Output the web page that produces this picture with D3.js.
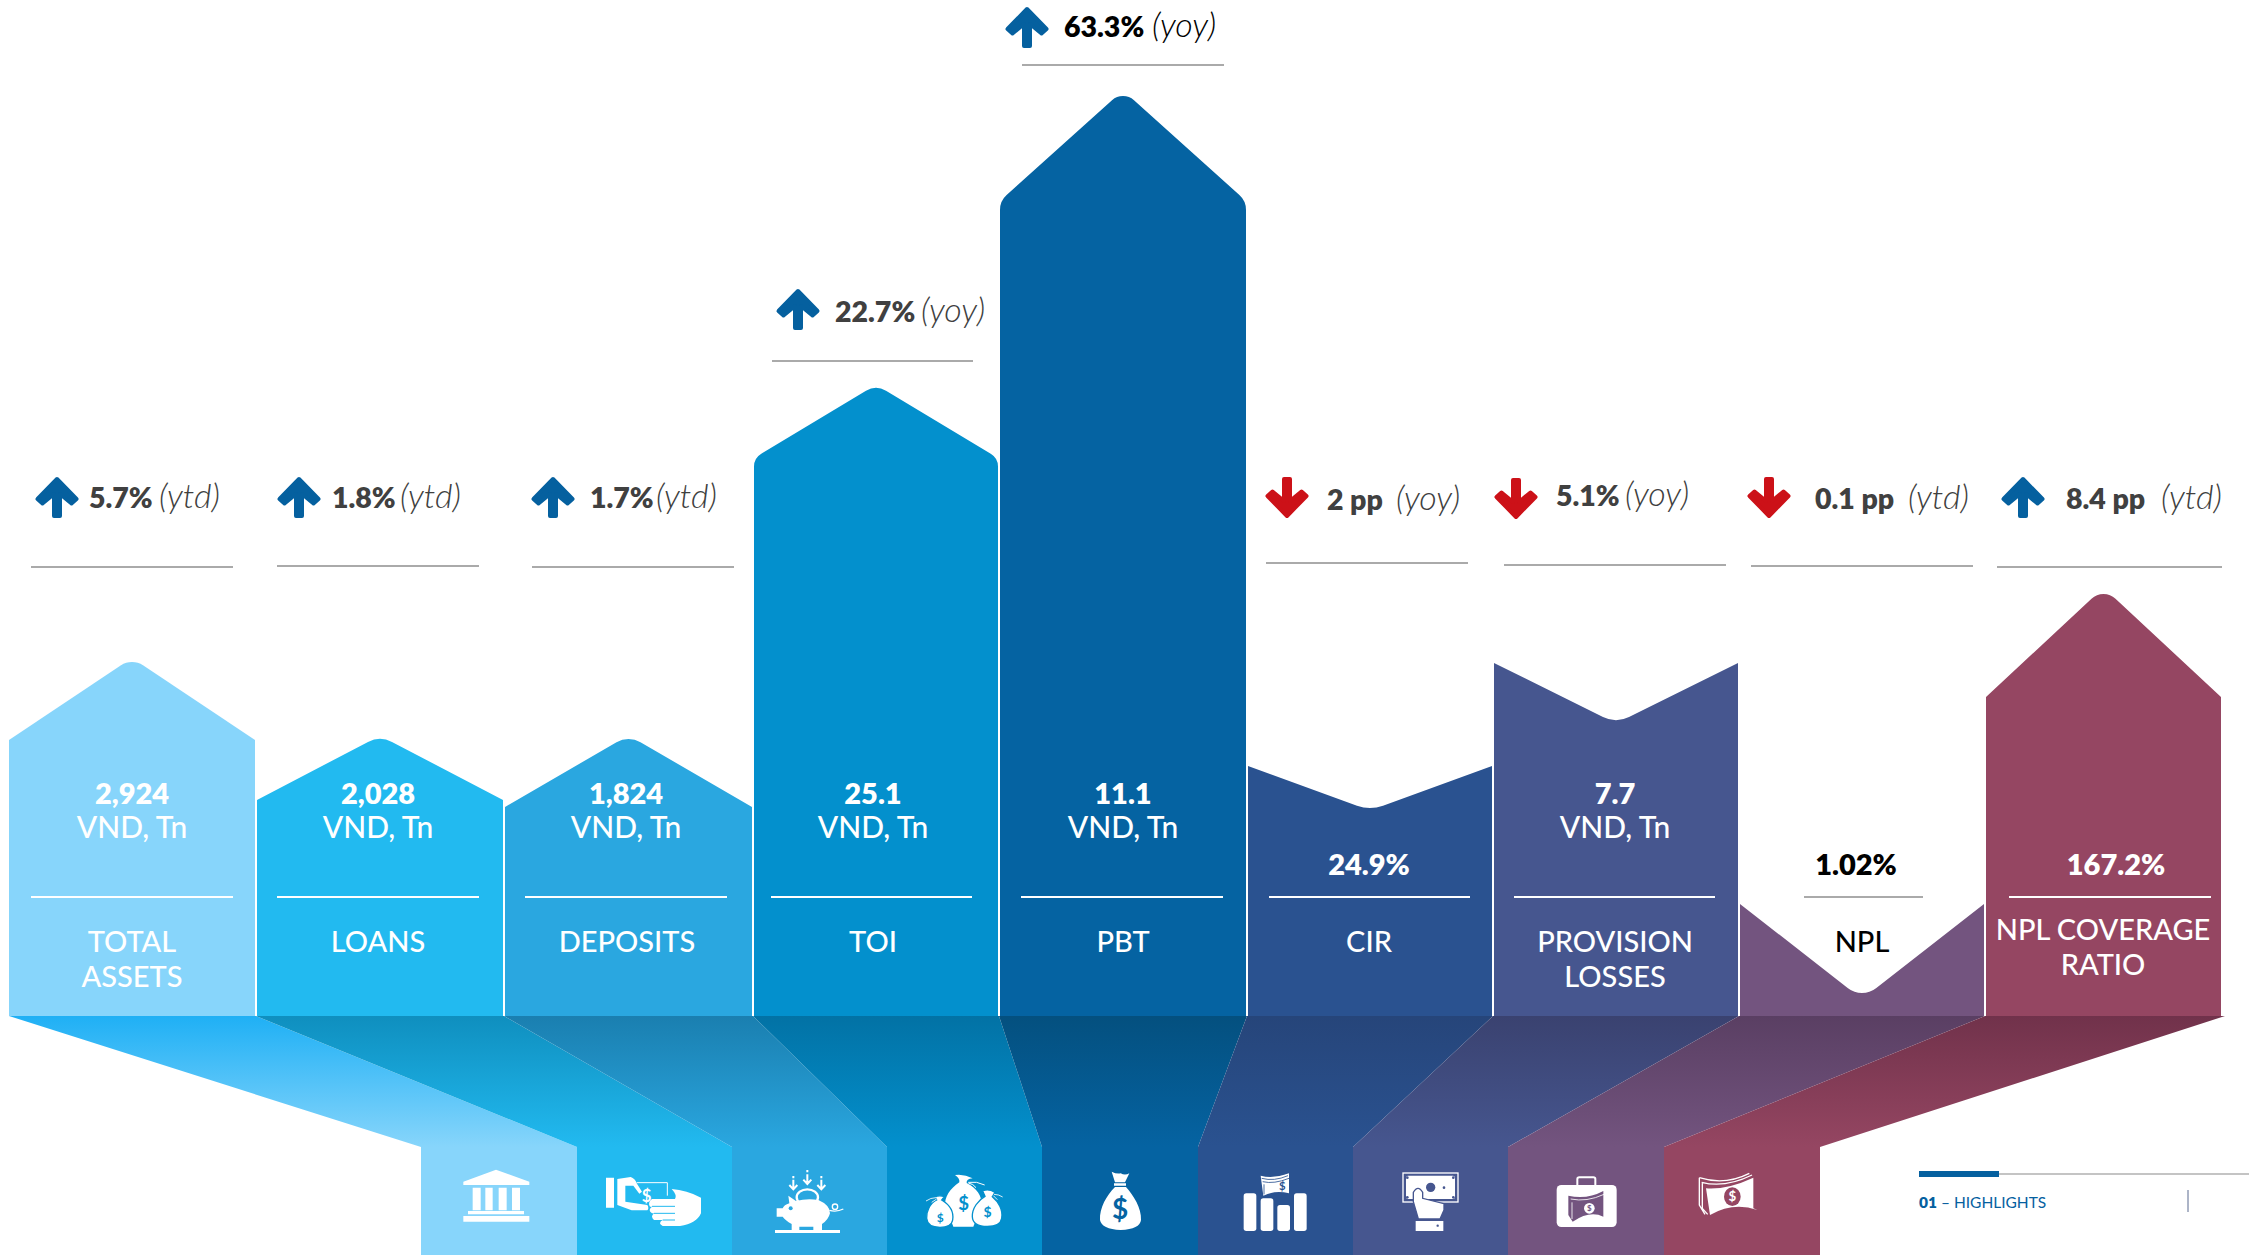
<!DOCTYPE html>
<html><head><meta charset="utf-8">
<style>html,body{margin:0;padding:0;background:#fff;overflow:hidden}svg{display:block}text{font-family:Lato,"Open Sans",sans-serif}</style>
<script src="https://cdn.jsdelivr.net/npm/d3@7/dist/d3.min.js"></script>
</head><body><svg id="c" width="2249" height="1255"></svg>
<script>
// ---- data ----
const categories = ["TOTAL ASSETS","LOANS","DEPOSITS","TOI","PBT","CIR","PROVISION LOSSES","NPL","NPL COVERAGE RATIO"];
const valueLabels = ["2,924","2,028","1,824","25.1","11.1","24.9%","7.7","1.02%","167.2%"];
const unitLabels = ["VND, Tn","VND, Tn","VND, Tn","VND, Tn","VND, Tn","","VND, Tn","",""];
const changeLabels = ["5.7%","1.8%","1.7%","22.7%","63.3%","2 pp","5.1%","0.1 pp","8.4 pp"];
const changeBasis = ["(ytd)","(ytd)","(ytd)","(yoy)","(yoy)","(yoy)","(yoy)","(ytd)","(ytd)"];
const changeDirection = [1,1,1,1,1,-1,-1,-1,1];
const edgeHeights = [276,216,209,558,815,250,353,112,319];
const apexHeights = [354,277,277,628,920,208,296,23,422];
const barColors = ["#87d5fb","#22baf0","#2aa7e0","#0390cd","#0563a2","#2a5290","#46568f","#73547f","#954662"];
const funnelTopColors = ["#1fb0f5","#0f8fbf","#1a7fb0","#0272a5","#04507f","#26457a","#3a4270","#5a3f63","#71324b"];

// ---- layout ----
const W=2249,H=1255,baseY=1016,neckY=1147;
const barLeft=[9,257,505,754,1000,1248,1494,1740,1986];
const barRight=[255,503,752,998,1246,1492,1738,1984,2221];
const funnelLeft=[9,256,504,753,999,1247,1493,1739,1985];
const funnelRight=[256,504,753,999,1247,1493,1739,1985,2225];
const colLeft=[421,577,732,887,1042,1198,1353,1508,1664];
const colRight=[577,732,887,1042,1198,1353,1508,1664,1820];
const ruleL=[31,277,525,771,1021,1269,1514,1804,2009],ruleR=[233,479,727,972,1223,1470,1715,1923,2211];
const topL=[31,277,532,772,1022,1266,1504,1751,1997],topR=[233,479,734,973,1224,1468,1726,1973,2222];
const topY=[567,566,567,361,65,563,565,566,567];
const arrowX=[57,299,553,798,1027,1287,1516,1769,2023];
const arrowTop=[477,477,477,289,7,477,478,477,477];
const chgX=[89,332,590,835,1064,1327,1556,1815,2066];
const chgY=[508,508,508,322,37,510,506,509,509];
const basisX=[159,400,656,921,1152,1396,1625,1908,2161];
const valX=[132,378,626,873,1123,1369,1615,1856,2116];
const catX=[132,378,627,873,1123,1369,1615,1862,2103];
const tipHalf=[11,12,12,10,11,13,13,14,12];
const shoulderR={3:15,4:20};

const svg=d3.select("#c");
const x=d3.scaleOrdinal(categories,barLeft);
const xEnd=d3.scaleOrdinal(categories,barRight);
const y=d3.scaleLinear().domain([0,1016]).range([baseY,0]);
const color=d3.scaleOrdinal(categories,barColors);

// gradients + funnels
const defs=svg.append("defs");
categories.forEach((c,i)=>{
  const g=defs.append("linearGradient").attr("id","f"+i).attr("gradientUnits","userSpaceOnUse")
   .attr("x1",0).attr("x2",0).attr("y1",baseY).attr("y2",neckY);
  g.append("stop").attr("offset",0).attr("stop-color",funnelTopColors[i]);
  g.append("stop").attr("offset",1).attr("stop-color",barColors[i]);
});
svg.append("g").selectAll("path").data(categories).join("path")
 .attr("fill",(d,i)=>`url(#f${i})`)
 .attr("d",(d,i)=>d3.line()([[funnelLeft[i],baseY],[funnelRight[i],baseY],[colRight[i],neckY],[colRight[i],H],[colLeft[i],H],[colLeft[i],neckY]])+"Z");

// bars: pointed (or notched) top with a rounded tip
function barPath(d,i){
  const l=x(d),r=xEnd(d),m=(l+r)/2,e=y(edgeHeights[i]),a=y(apexHeights[i]);
  const w=(r-l)/2,h=Math.abs(a-e),sgn=a<e?-1:1,tw=tipHalf[i];
  let dv=0,R=0;
  for(let k=0;k<6;k++){
    const th=Math.atan(w/(h+dv));
    R=tw/Math.cos(th);
    dv=R*(1/Math.sin(th)-1);
  }
  const vy=a+sgn*dv;
  const p=d3.path();
  p.moveTo(l,baseY);
  const rs=shoulderR[i];
  if(rs) p.arcTo(l,e,m,vy,rs); else p.lineTo(l,e);
  p.arcTo(m,vy,r,e,R);
  if(rs) p.arcTo(r,e,r,baseY,rs); else p.lineTo(r,e);
  p.lineTo(r,baseY); p.closePath();
  return p.toString();
}
svg.append("g").selectAll("path").data(categories).join("path")
 .attr("fill",d=>color(d)).attr("d",barPath);

// rules
const ink=i=>i===7?"#000":"#fff";
svg.append("g").selectAll("line").data(categories).join("line")
 .attr("x1",(d,i)=>ruleL[i]).attr("x2",(d,i)=>ruleR[i]).attr("y1",897).attr("y2",897)
 .attr("stroke",(d,i)=>i===7?"#aaaaaa":"#fff").attr("stroke-width",2);
svg.append("g").selectAll("line").data(categories).join("line")
 .attr("x1",(d,i)=>topL[i]).attr("x2",(d,i)=>topR[i]).attr("y1",(d,i)=>topY[i]).attr("y2",(d,i)=>topY[i])
 .attr("stroke","#aaaaaa").attr("stroke-width",2);

// value / unit / category text
const t=svg.append("g").attr("text-anchor","middle").attr("font-size",29);
categories.forEach((c,i)=>{
  const hasUnit=unitLabels[i]!=="";
  t.append("text").attr("x",valX[i]).attr("y",hasUnit?804:875).attr("font-weight",800)
    .attr("fill",ink(i)).text(valueLabels[i]);
  if(hasUnit) t.append("text").attr("x",valX[i]).attr("y",838).attr("font-size",30).attr("font-weight",500).attr("fill","#fff").text(unitLabels[i]);
  let lines=[c];
  if(c==="TOTAL ASSETS")lines=["TOTAL","ASSETS"];
  if(c==="PROVISION LOSSES")lines=["PROVISION","LOSSES"];
  if(c==="NPL COVERAGE RATIO")lines=["NPL COVERAGE","RATIO"];
  const y0=i===8?940:952,dy=35;
  lines.forEach((s,k)=>t.append("text").attr("x",catX[i]).attr("y",y0+k*dy).attr("font-weight",500).attr("fill",ink(i)).text(s));
});

// change labels
const c2=svg.append("g").attr("font-size",28.5);
categories.forEach((c,i)=>{
  const col=i===4?"#000":"#404040";
  c2.append("text").attr("x",chgX[i]).attr("y",chgY[i]).attr("font-weight",800).attr("fill",col).text(changeLabels[i]);
  c2.append("text").attr("x",basisX[i]).attr("y",chgY[i]).attr("font-size",34).attr("font-style","italic").attr("font-weight",300).attr("fill",col).text(changeBasis[i]);
  const up=changeDirection[i]>0,fc=up?"#05609f":"#cc1118";
  c2.append("path").attr("transform",up?`translate(${arrowX[i]},${arrowTop[i]})`:`translate(${arrowX[i]},${arrowTop[i]+41}) scale(1,-1)`)
    .attr("fill",fc).attr("stroke",fc).attr("stroke-width",4).attr("stroke-linejoin","round")
    .attr("d","M0,2 L19.5,22 L14.5,26.5 L3,17 L3,39 L-3,39 L-3,17 L-14.5,26.5 L-19.5,22 Z");
});

// ---- icons (paths in 3x units, placed by group origin) ----
const ic=(ox,oy)=>svg.append("g").attr("transform",`translate(${ox},${oy}) scale(${1/3})`).attr("fill","#fff");
const dollar=(g,x0,y0,fs,fill)=>g.append("text").attr("x",x0).attr("y",y0).attr("font-size",fs).attr("font-weight",700).attr("text-anchor","middle").attr("fill",fill).text("$");

const g1=ic(440,1155);
g1.append("path").attr("d","M168,44 L268,80 V90 H70 V80 Z M98,98 H122 V166 H98 Z M136,98 H158 V166 H136 Z M176,98 H200 V166 H176 Z M216,98 H240 V166 H216 Z M84,168 H252 V178 H84 Z M70,183 H268 V200 H70 Z");
g1.append("path").attr("d","M498,68 H522 V158 H498 Z M532,72 L572,66 Q585,70 590,85 L606,110 L598,116 L580,92 H556 V140 L622,150 Q628,160 622,166 H575 L532,150 Z");
g1.append("path").attr("fill","none").attr("stroke","#fff").attr("stroke-width",3).attr("d","M590,83 H682 V122");
dollar(g1,620,140,50,"#fff");
g1.append("path").attr("d","M695,102 Q740,105 783,128 V175 Q770,205 720,213 H668 Q652,205 668,195 H642 Q630,185 642,175 H636 Q622,165 636,155 H630 Q622,143 636,132 H705 Q712,120 695,102 Z");
g1.append("path").attr("fill","none").attr("stroke","#22baf0").attr("stroke-width",3).attr("d","M636,154 H705 M642,175 H705 M668,195 H705");

const g2=ic(760,1155);
g2.append("path").attr("fill","none").attr("stroke","#fff").attr("stroke-width",6).attr("d","M100,74 V98 M88,90 L100,103 L112,90 M142,58 V82 M130,74 L142,87 L154,74 M184,74 V98 M172,90 L184,103 L196,90");
g2.append("path").attr("d","M97,63 H103 V70 H97 Z M139,45 H145 V52 H139 Z M181,63 H187 V70 H181 Z");
g2.append("ellipse").attr("cx",142).attr("cy",127).attr("rx",32).attr("ry",24).attr("fill","none").attr("stroke","#fff").attr("stroke-width",7);
g2.append("path").attr("d","M85,122 L108,138 Q140,130 175,135 Q210,150 210,175 Q205,195 186,207 V225 H160 V215 H118 V225 H95 V207 Q75,195 68,185 H50 V160 H68 Q72,150 88,145 Z M45,225 H240 V234 H45 Z");
g2.append("circle").attr("cx",92).attr("cy",160).attr("r",6).attr("fill","#2aa7e0");
g2.append("circle").attr("cx",225).attr("cy",155).attr("r",8).attr("fill","none").attr("stroke","#fff").attr("stroke-width",4);
g2.append("path").attr("fill","none").attr("stroke","#fff").attr("stroke-width",4).attr("d","M208,166 Q230,172 250,162");
g2.append("path").attr("d","M598,82 C570,100 552,130 556,150 L580,215 H640 L665,150 C665,120 650,100 620,84 Q618,72 638,70 Q612,56 585,60 Q600,70 598,82 Z");
g2.append("path").attr("fill","none").attr("stroke","#fff").attr("stroke-width",3).attr("d","M625,82 Q650,78 674,90 M625,84 Q640,86 648,98");
g2.append("path").attr("stroke","#0390cd").attr("stroke-width",4).attr("d","M525,125 Q540,120 553,125 L545,135 C570,150 582,170 578,195 C575,212 555,217 540,217 C520,217 502,212 500,190 C498,170 510,145 530,135 Z");
g2.append("path").attr("stroke","#0390cd").attr("stroke-width",4).attr("d","M668,108 Q685,100 705,112 L697,125 C715,140 730,165 725,190 C722,210 700,214 682,214 C660,214 638,208 637,185 C636,160 655,135 675,124 Z");
g2.append("path").attr("fill","none").attr("stroke","#fff").attr("stroke-width",2.5).attr("d","M528,128 Q512,128 498,138 M530,132 L515,142 M702,118 Q716,118 728,126 M700,122 L712,134");
dollar(g2,611,164,56,"#0390cd");dollar(g2,541,200,36,"#0390cd");dollar(g2,683,187,42,"#0390cd");

const g3=ic(1090,1155);
g3.append("path").attr("d","M65,50 Q80,58 92,55 Q105,62 118,55 L105,82 H75 Z M72,85 H108 V92 H72 Z M75,96 H108 C130,120 155,160 153,195 Q150,222 92,225 Q35,222 30,195 C28,160 50,120 75,96 Z");
dollar(g3,90,191,84,"#0563a2");
[[461,115],[512,130],[562,150],[612,115]].forEach(b=>g3.append("rect").attr("x",b[0]).attr("y",b[1]).attr("width",38).attr("height",228-b[1]).attr("rx",8));
g3.append("path").attr("d","M512,62 Q550,72 597,55 V115 Q555,105 520,122 Z");
g3.append("path").attr("fill","none").attr("stroke","#2a5290").attr("stroke-width",2.5).attr("d","M515,70 Q552,80 594,62 M518,80 Q552,88 597,70 M522,88 V118");
dollar(g3,577,104,34,"#2a5290");
g3.append("rect").attr("x",939).attr("y",54).attr("width",165).attr("height",87).attr("fill","none").attr("stroke","#fff").attr("stroke-width",4);
g3.append("rect").attr("x",948).attr("y",62).attr("width",147).attr("height",70).attr("rx",6);
[[952,68],[1090,68],[952,127],[1090,127]].forEach(b=>g3.append("circle").attr("cx",b[0]).attr("cy",b[1]).attr("r",4).attr("fill","#46568f"));
g3.append("circle").attr("cx",1022).attr("cy",97).attr("r",14).attr("fill","#46568f");
g3.append("circle").attr("cx",1062).attr("cy",98).attr("r",4).attr("fill","#46568f");
g3.append("path").attr("stroke","#46568f").attr("stroke-width",4).attr("d","M970,134 V112 Q984,88 998,112 V130 L1062,146 V165 L1050,192 H985 L970,140 Z");
g3.append("rect").attr("x",977).attr("y",198).attr("width",83).attr("height",30);
g3.append("circle").attr("cx",1043).attr("cy",212).attr("r",3.5).attr("fill","#46568f");

const g4=ic(1540,1155);
g4.append("path").attr("fill","none").attr("stroke","#fff").attr("stroke-width",6).attr("d","M112,92 V72 Q112,67 118,67 H160 Q166,67 166,72 V92");
g4.append("rect").attr("x",50).attr("y",90).attr("width",180).attr("height",126).attr("rx",14);
g4.append("path").attr("fill","#73547f").attr("d","M85,122 Q140,135 190,108 V185 Q150,165 98,200 L85,180 Z");
g4.append("path").attr("fill","none").attr("stroke","#fff").attr("stroke-width",2.5).attr("d","M92,132 Q140,142 192,118 M96,142 V192");
g4.append("circle").attr("cx",148).attr("cy",160).attr("r",16);
dollar(g4,148,168,24,"#73547f");
g4.append("path").attr("d","M498,100 Q560,105 640,68 V160 L652,165 Q580,140 510,180 Z");
g4.append("path").attr("fill","none").attr("stroke","#fff").attr("stroke-width",4).attr("d","M478,68 Q555,92 628,55 M485,82 Q555,100 636,60 M478,68 V150 L495,178 M487,85 V160 L503,178");
g4.append("ellipse").attr("cx",577).attr("cy",125).attr("rx",25).attr("ry",28).attr("fill","#954662");
dollar(g4,577,139,40,"#fff");

// footer
svg.append("line").attr("x1",1999).attr("x2",W).attr("y1",1174).attr("y2",1174).attr("stroke","#b0b0b0").attr("stroke-width",1.5);
svg.append("rect").attr("x",1919).attr("y",1171).attr("width",80).attr("height",6).attr("fill","#05609f");
const ft=svg.append("text").attr("x",1919).attr("y",1208).attr("font-size",15.5).attr("fill","#05609f");
ft.append("tspan").attr("font-weight",800).text("01");
ft.append("tspan").text(" – HIGHLIGHTS");
svg.append("line").attr("x1",2188).attr("x2",2188).attr("y1",1190).attr("y2",1212).attr("stroke","#5a6a90").attr("stroke-width",1);
</script></body></html>
